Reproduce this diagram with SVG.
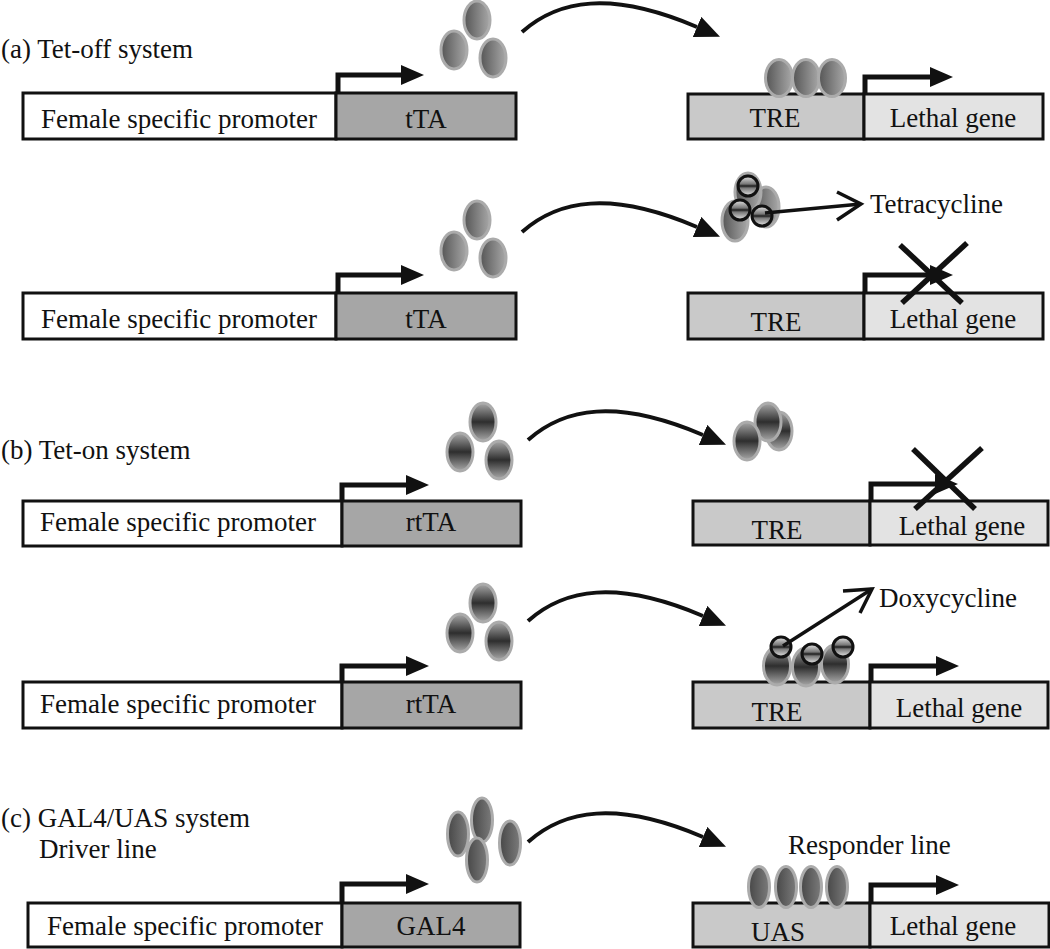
<svg xmlns="http://www.w3.org/2000/svg" width="1050" height="949" viewBox="0 0 1050 949">
<style>
  text{font-family:'Liberation Serif','DejaVu Serif',serif;font-size:27px;fill:#111}
  .m{text-anchor:middle}
  .box{stroke:#111;stroke-width:3}
  .w{fill:#fff}
  .dk{fill:#a6a6a6}
  .md{fill:#c9c9c9}
  .lt{fill:#e3e3e3}
  .eoff{fill:url(#gOff);stroke:#ababab;stroke-width:3}
  .eon{fill:url(#gOn);stroke:#ababab;stroke-width:3}
  .egal{fill:url(#gGal);stroke:#ababab;stroke-width:3}
  .drug{fill:url(#gDrug);stroke:#111;stroke-width:3}
  .curve{fill:none;stroke:#111;stroke-width:4;marker-end:url(#hd)}
  .bent{fill:none;stroke:#111;stroke-width:5;marker-end:url(#hb)}
  .open{fill:none;stroke:#111;stroke-width:3.5}
  .x{stroke:#111;stroke-width:5.5}
</style>
<defs>
  <linearGradient id="gOff" x1="0" y1="0" x2="1" y2="0">
    <stop offset="0" stop-color="#555"/><stop offset="1" stop-color="#a8a8a8"/>
  </linearGradient>
  <linearGradient id="gOn" x1="0" y1="0" x2="0" y2="1">
    <stop offset="0" stop-color="#a8a8a8"/><stop offset="0.5" stop-color="#2e2e2e"/><stop offset="1" stop-color="#a8a8a8"/>
  </linearGradient>
  <linearGradient id="gGal" x1="0" y1="0" x2="1" y2="0">
    <stop offset="0" stop-color="#474747"/><stop offset="1" stop-color="#7c7c7c"/>
  </linearGradient>
  <linearGradient id="gDrug" x1="0" y1="0" x2="0" y2="1">
    <stop offset="0" stop-color="#e8e8e8"/><stop offset="0.4" stop-color="#777"/><stop offset="0.5" stop-color="#1c1c1c"/><stop offset="0.6" stop-color="#777"/><stop offset="1" stop-color="#e8e8e8"/>
  </linearGradient>
  <marker id="hd" markerUnits="userSpaceOnUse" markerWidth="25" markerHeight="22" refX="0" refY="11" orient="auto" viewBox="0 0 25 22">
    <path d="M0,0 L25,11 L0,22 z" fill="#111"/>
  </marker>
  <marker id="hb" markerUnits="userSpaceOnUse" markerWidth="23" markerHeight="20" refX="0" refY="10" orient="auto" viewBox="0 0 23 20">
    <path d="M0,0 L23,10 L0,20 z" fill="#111"/>
  </marker>
</defs>

<g id="titles" font-family="Liberation Serif, DejaVu Serif, serif">
  <text x="1" y="58">(a) Tet-off system</text>
  <text x="1" y="459">(b) Tet-on system</text>
  <text x="1" y="827">(c) GAL4/UAS system</text>
  <text x="39" y="858">Driver line</text>
  <text x="788" y="854">Responder line</text>
</g>

<!-- Row a1 -->
<g id="a1-driver">
  <rect class="box w" x="23" y="93" width="313" height="46"/>
  <rect class="box dk" x="336" y="93" width="180" height="46"/>
  <text class="m" x="179" y="128">Female specific promoter</text>
  <text class="m" x="426" y="128">tTA</text>
</g>
<g id="a1-tta">
  <ellipse class="eoff" cx="477" cy="20" rx="13" ry="19"/>
  <ellipse class="eoff" cx="454" cy="50" rx="13" ry="19"/>
  <ellipse class="eoff" cx="493" cy="58" rx="13" ry="19"/>
</g>
<g id="a1-responder">
  <rect class="box md" x="688" y="94" width="176" height="45"/>
  <rect class="box lt" x="864" y="94" width="179" height="45"/>
  <ellipse class="eoff" cx="779" cy="78" rx="13.5" ry="18.5"/>
  <ellipse class="eoff" cx="806" cy="78" rx="13.5" ry="18.5"/>
  <ellipse class="eoff" cx="832" cy="78" rx="13.5" ry="18.5"/>
  <text class="m" x="775" y="127">TRE</text>
  <text class="m" x="953" y="127">Lethal gene</text>
</g>

<!-- Row a2 -->
<g id="a2-driver">
  <rect class="box w" x="23" y="293" width="313" height="46"/>
  <rect class="box dk" x="336" y="293" width="180" height="46"/>
  <text class="m" x="179" y="328">Female specific promoter</text>
  <text class="m" x="426" y="328">tTA</text>
</g>
<g id="a2-tta">
  <ellipse class="eoff" cx="477" cy="220" rx="13" ry="19"/>
  <ellipse class="eoff" cx="454" cy="251" rx="13" ry="19"/>
  <ellipse class="eoff" cx="493" cy="258" rx="13" ry="19"/>
</g>
<g id="a2-complex">
  <ellipse class="eoff" cx="766" cy="207" rx="13" ry="20"/>
  <ellipse class="eoff" cx="748" cy="192" rx="13" ry="19"/>
  <ellipse class="eoff" cx="735" cy="221" rx="13" ry="20"/>
  <circle class="drug" cx="748" cy="186" r="10"/>
  <circle class="drug" cx="740" cy="210" r="10"/>
  <circle class="drug" cx="762" cy="216" r="10"/>
  <text x="870" y="213">Tetracycline</text>
</g>
<g id="a2-responder">
  <rect class="box md" x="688" y="293" width="176" height="46"/>
  <rect class="box lt" x="864" y="293" width="179" height="46"/>
  <text class="m" x="776" y="331">TRE</text>
  <text class="m" x="953" y="328">Lethal gene</text>
</g>

<!-- Row b1 -->
<g id="b1-driver">
  <rect class="box w" x="23" y="501" width="319" height="45"/>
  <rect class="box dk" x="342" y="501" width="179" height="45"/>
  <text class="m" x="178" y="531">Female specific promoter</text>
  <text class="m" x="431" y="531">rtTA</text>
</g>
<g id="b1-rtta">
  <ellipse class="eon" cx="483" cy="422" rx="13" ry="19"/>
  <ellipse class="eon" cx="460" cy="452" rx="13" ry="19"/>
  <ellipse class="eon" cx="499" cy="460" rx="13" ry="19"/>
</g>
<g id="b1-free">
  <ellipse class="eon" cx="779" cy="431" rx="13" ry="19"/>
  <ellipse class="eon" cx="768" cy="422" rx="13" ry="19"/>
  <ellipse class="eon" cx="747" cy="441" rx="13" ry="19"/>
</g>
<g id="b1-responder">
  <rect class="box md" x="693" y="501" width="177" height="44"/>
  <rect class="box lt" x="870" y="501" width="178" height="44"/>
  <text class="m" x="777" y="539">TRE</text>
  <text class="m" x="962" y="535">Lethal gene</text>
</g>

<!-- Row b2 -->
<g id="b2-driver">
  <rect class="box w" x="23" y="682" width="319" height="46"/>
  <rect class="box dk" x="342" y="682" width="179" height="46"/>
  <text class="m" x="178" y="713">Female specific promoter</text>
  <text class="m" x="431" y="713">rtTA</text>
</g>
<g id="b2-rtta">
  <ellipse class="eon" cx="483" cy="603" rx="13" ry="19"/>
  <ellipse class="eon" cx="460" cy="633" rx="13" ry="19"/>
  <ellipse class="eon" cx="499" cy="641" rx="13" ry="19"/>
</g>
<g id="b2-responder">
  <rect class="box md" x="693" y="682" width="177" height="46"/>
  <rect class="box lt" x="870" y="682" width="178" height="46"/>
  <ellipse class="eon" cx="777" cy="666" rx="13.5" ry="19"/>
  <ellipse class="eon" cx="806" cy="667" rx="13.5" ry="19"/>
  <ellipse class="eon" cx="835" cy="664" rx="13.5" ry="19"/>
  <circle class="drug" cx="781" cy="647" r="10"/>
  <circle class="drug" cx="812" cy="654" r="10"/>
  <circle class="drug" cx="843" cy="647" r="10"/>
  <text class="m" x="777" y="721">TRE</text>
  <text class="m" x="959" y="717">Lethal gene</text>
  <text x="879" y="607">Doxycycline</text>
</g>

<!-- Row c -->
<g id="c-driver">
  <rect class="box w" x="28" y="903" width="314" height="44"/>
  <rect class="box dk" x="342" y="903" width="178" height="44"/>
  <text class="m" x="185" y="935">Female specific promoter</text>
  <text class="m" x="431" y="935">GAL4</text>
</g>
<g id="c-gal4">
  <ellipse class="egal" cx="458" cy="834" rx="10.5" ry="22"/>
  <ellipse class="egal" cx="482" cy="820" rx="10.5" ry="22"/>
  <ellipse class="egal" cx="477" cy="860" rx="10.5" ry="22"/>
  <ellipse class="egal" cx="510" cy="843" rx="10.5" ry="22"/>
</g>
<g id="c-responder">
  <rect class="box md" x="693" y="903" width="177" height="44"/>
  <rect class="box lt" x="870" y="903" width="179" height="44"/>
  <ellipse class="egal" cx="759" cy="887" rx="10.5" ry="20.5"/>
  <ellipse class="egal" cx="786" cy="887" rx="10.5" ry="20.5"/>
  <ellipse class="egal" cx="811" cy="887" rx="10.5" ry="20.5"/>
  <ellipse class="egal" cx="837" cy="887" rx="10.5" ry="20.5"/>
  <text class="m" x="778" y="941">UAS</text>
  <text class="m" x="953" y="935">Lethal gene</text>
</g>

<g id="connectors">
  <path class="curve" d="M522,32 C558,0 610,-10 697,27"/>
  <path class="curve" transform="translate(0,200)" d="M522,32 C558,0 610,-10 697,27"/>
  <path class="curve" transform="translate(6,408)" d="M522,32 C558,0 610,-10 697,27"/>
  <path class="curve" transform="translate(6,589)" d="M522,32 C558,0 610,-10 697,27"/>
  <path class="curve" transform="translate(6,810)" d="M522,32 C558,0 610,-10 697,27"/>
  <path class="bent" d="M338,93 V75 H401"/>
  <path class="bent" d="M338,293 V275 H401"/>
  <path class="bent" d="M342,501 V485 H406"/>
  <path class="bent" d="M342,682 V666 H406"/>
  <path class="bent" d="M342,903 V884 H406"/>
  <path class="bent" d="M865,94 V77 H930"/>
  <path class="bent" d="M865,293 V275 H930"/>
  <path class="bent" d="M871,501 V484 H935"/>
  <path class="bent" d="M871,682 V666 H936"/>
  <path class="bent" d="M871,903 V885 H936"/>
  <line class="x" x1="900" y1="245" x2="962" y2="303"/>
  <line class="x" x1="967" y1="243" x2="902" y2="303"/>
  <line class="x" x1="913" y1="449" x2="975" y2="509"/>
  <line class="x" x1="982" y1="448" x2="915" y2="509"/>
  <line class="open" x1="765" y1="213" x2="861" y2="204"/>
  <polyline class="open" points="837,192 861,204 837,220"/>
  <line class="open" x1="783" y1="646" x2="872" y2="589"/>
  <polyline class="open" points="843,591 872,589 860,613"/>
</g>
</svg>
